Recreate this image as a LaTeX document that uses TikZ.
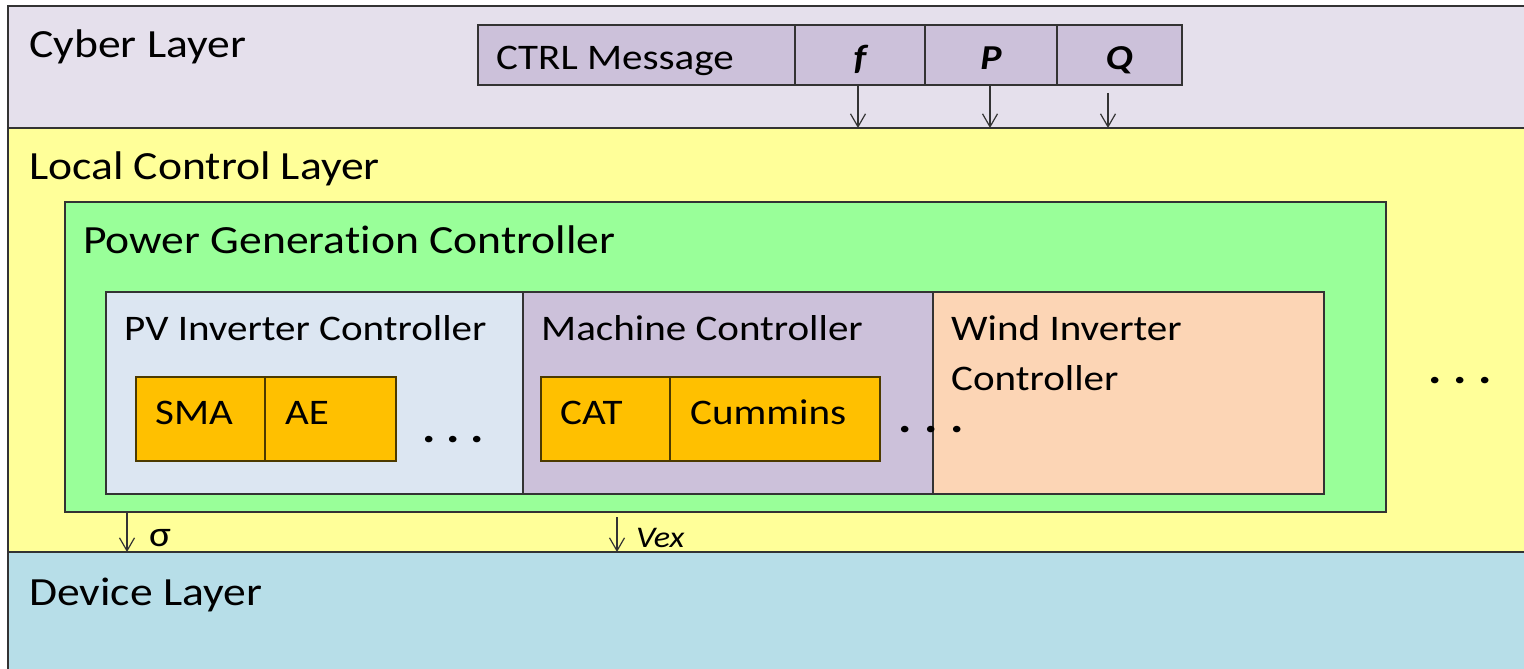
\documentclass[tikz,border=0pt]{standalone}
\usepackage{fontspec}
\setmainfont{Carlito}[FakeStretch=1.14, Ligatures=NoCommon]
\usetikzlibrary{arrows.meta}
\definecolor{cyberC}{HTML}{E5E0EC}
\definecolor{ctrlC}{HTML}{CCC1DA}
\definecolor{localC}{HTML}{FFFF99}
\definecolor{greenC}{HTML}{99FF99}
\definecolor{pvC}{HTML}{DCE6F2}
\definecolor{machC}{HTML}{CCC1DA}
\definecolor{windC}{HTML}{FCD5B5}
\definecolor{brandC}{HTML}{FFC000}
\definecolor{deviceC}{HTML}{B7DEE8}
\definecolor{lineC}{HTML}{333333}
\begin{document}
\begin{tikzpicture}[x=1pt,y=-1pt,
  box/.style={draw=lineC, line width=1.4pt, inner sep=0pt, outer sep=0pt, anchor=north west},
  brandbox/.style={box, fill=brandC, draw=black!70!brandC, minimum height=84pt},
  cell/.style={box, fill=ctrlC, minimum height=60pt},
  lbl/.style={anchor=base west, inner sep=0pt, font=\fontsize{40}{48}\selectfont},
  sublbl/.style={anchor=base west, inner sep=0pt, font=\fontsize{36}{50}\selectfont},
  bi/.style={anchor=base, inner sep=0pt, font=\fontsize{35}{40}\selectfont\bfseries\itshape},
  dots/.style={anchor=base west, inner sep=0pt, font=\fontsize{44}{44}\selectfont\bfseries},
  sig/.style={-{Straight Barb[length=13pt,width=15pt]}, line width=1.2pt, draw=lineC}]
\clip (0,0) rectangle (1524,669);
\fill[white] (0,0) rectangle (1524,669);
% layers
\node[box, fill=cyberC, minimum width=1530pt, minimum height=122pt] (cyber) at (8,6) {};
\node[box, fill=localC, minimum width=1530pt, minimum height=424pt] (local) at (8,128) {};
\node[box, fill=deviceC, minimum width=1530pt, minimum height=130pt] (device) at (8,552) {};
\node[lbl] (cyberlbl) at (29,58) {Cyber Layer};
\node[lbl] (locallbl) at (29,179) {Local Control Layer};
\node[lbl] (devicelbl) at (29,605) {Device Layer};
% control message
\node[cell, minimum width=317pt] (ctrl) at (478,25) {};
\node[cell, minimum width=130pt] (fcell) at (795,25) {};
\node[cell, minimum width=132pt] (pcell) at (925,25) {};
\node[cell, minimum width=125pt] (qcell) at (1057,25) {};
\node[sublbl] (ctrllbl) at (496,70) {CTRL Message};
\node[bi] (flbl) at (860,70) {f};
\node[bi] (plbl) at (991,70) {P};
\node[bi] (qlbl) at (1119,70) {Q};
\coordinate (fend) at (858,128);
\coordinate (pend) at (990,128);
\coordinate (qend) at (1108,128);
\draw[sig] (fcell.south -| fend) -- (fend);
\draw[sig] (pcell.south -| pend) -- (pend);
\draw[sig] ([yshift=-8pt]qcell.south -| qend) -- (qend);
% power generation controller
\node[box, fill=greenC, minimum width=1321pt, minimum height=310pt] (pgc) at (65,202) {};
\node[lbl] (pgclbl) at (83,253) {Power Generat\kern0pt ion Controller};
\node[box, fill=pvC, minimum width=417pt, minimum height=202pt] (pv) at (106,292) {};
\node[box, fill=machC, minimum width=410pt, minimum height=202pt] (mach) at (523,292) {};
\node[box, fill=windC, minimum width=391pt, minimum height=202pt] (wind) at (933,292) {};
\node[sublbl] (pvlbl) at (124,340) {PV Inverter Controller};
\node[sublbl] (machlbl) at (541,340) {Machine Controller};
\node[sublbl] (windlbl) at (951,340) {Wind Inverter};
\node[sublbl] (windlbl2) at (951,390) {Controller};
% brands
\node[brandbox, minimum width=129pt] (sma) at (136,377) {};
\node[brandbox, minimum width=131pt] (ae) at (265,377) {};
\node[brandbox, minimum width=129pt] (cat) at (541,377) {};
\node[brandbox, minimum width=210pt] (cummins) at (670,377) {};
\node[sublbl] (smalbl) at (155,424) {SMA};
\node[sublbl] (aelbl) at (285,424) {AE};
\node[sublbl] (catlbl) at (560,424) {CAT};
\node[sublbl] (cumminslbl) at (690,424) {Cummins};
% ellipses
\node[dots] (pvdots) at (422,442) {.\hspace{10.6pt}.\hspace{10.6pt}.};
\node[dots] (machdots) at (898,432) {.\hspace{13pt}.\hspace{13pt}.};
\node[dots] (moredots) at (1428,383) {.\hspace{12pt}.\hspace{12pt}.};
% device signals
\coordinate (sigend) at (127,552);
\coordinate (vexend) at (617,552);
\draw[sig] (pgc.south -| sigend) -- (sigend);
\draw[sig] ([yshift=-5pt]pgc.south -| vexend) -- (vexend);
\node[sublbl] (siglbl) at (149,546) {σ};
\node[sublbl, font=\fontsize{30}{36}\selectfont\itshape] (vexlbl) at (636,547) {Vex};
\end{tikzpicture}
\end{document}
